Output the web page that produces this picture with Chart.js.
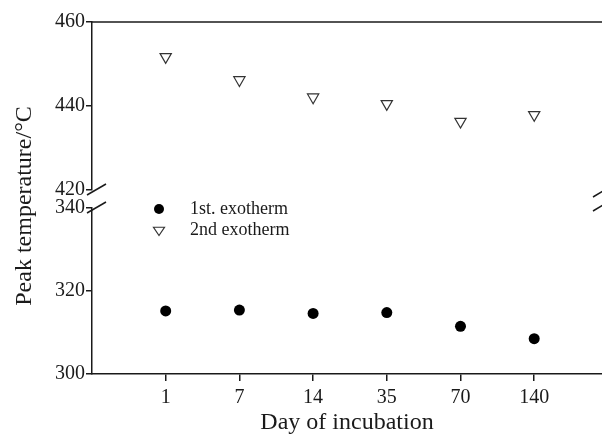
<!DOCTYPE html>
<html>
<head>
<meta charset="utf-8">
<script src="https://cdn.jsdelivr.net/npm/chart.js@4/dist/chart.umd.min.js"></script>
<style>
  html, body { margin: 0; padding: 0; background: #fff; }
  #wrap { width: 602px; height: 437px; }
</style>
</head>
<body>
<div id="wrap"><canvas id="chart" width="602" height="437"></canvas></div>
<script>
const days = ['1', '7', '14', '35', '70', '140'];
const firstExotherm = [315.2, 315.4, 314.6, 314.8, 311.5, 308.5];
const secondExotherm = [451.7, 446.2, 442.1, 440.5, 436.3, 437.9];
const topTicks = [420, 440, 460];
const bottomTicks = [300, 320, 340];

const serif = '"Liberation Serif", "DejaVu Serif", serif';
const ink = '#1a1a1a';

const toPoints = (values) => values.map((y, i) => ({ x: i + 1, y }));

const fixedTicks = (values) => (scale) => {
  scale.ticks = values.map((value) => ({ value }));
};

const yAxis = (min, max, ticks, weight) => ({
  type: 'linear',
  position: 'left',
  stack: 'y',
  stackWeight: weight,
  min,
  max,
  afterBuildTicks: fixedTicks(ticks),
  afterFit: (scale) => { scale.width = 92; },
  border: { display: true, color: ink, width: 1.5 },
  grid: { display: true, drawOnChartArea: false, drawTicks: true, tickLength: 6, color: ink, lineWidth: 1.5 },
  ticks: { color: ink, padding: 1, font: { family: serif, size: 20 } }
});

// axis breaks, top frame line, y title and the in-plot legend
const decorations = {
  id: 'decorations',
  afterDraw(chart) {
    const { ctx, chartArea } = chart;
    const top = chart.scales.yTop;
    const bottom = chart.scales.yBottom;
    ctx.save();
    ctx.strokeStyle = ink;
    ctx.lineWidth = 1.5;
    ctx.beginPath();
    ctx.moveTo(chartArea.left, chartArea.top);
    ctx.lineTo(chartArea.right, chartArea.top);
    ctx.stroke();

    const slash = (x, y) => {
      ctx.beginPath();
      ctx.moveTo(x - 5, y + 3);
      ctx.lineTo(x + 14, y - 8);
      ctx.stroke();
    };
    slash(chartArea.left, top.bottom + 2);
    slash(chartArea.left, bottom.top + 2);
    ctx.beginPath();
    ctx.moveTo(chartArea.right - 9, top.bottom + 7);
    ctx.lineTo(chartArea.right + 1, top.bottom + 1);
    ctx.moveTo(chartArea.right - 9, bottom.top + 3);
    ctx.lineTo(chartArea.right + 1, bottom.top - 3);
    ctx.stroke();

    ctx.fillStyle = ink;
    ctx.font = '24px ' + serif;
    ctx.textAlign = 'center';
    ctx.textBaseline = 'middle';
    ctx.translate(25, 206);
    ctx.rotate(-Math.PI / 2);
    ctx.fillText('Peak temperature/°C', 0, 0);
    ctx.restore();

    ctx.save();
    ctx.font = '18px ' + serif;
    ctx.fillStyle = ink;
    ctx.textBaseline = 'middle';
    chart.data.datasets.forEach((ds, i) => {
      const cx = 159;
      const cy = 209 + i * 21;
      ctx.beginPath();
      if (ds.pointStyle === 'circle') {
        ctx.arc(cx, cy, 5, 0, Math.PI * 2);
        ctx.fillStyle = ds.backgroundColor;
        ctx.fill();
      } else {
        const r = 5.5;
        ctx.moveTo(cx - r, cy - r / 2);
        ctx.lineTo(cx + r, cy - r / 2);
        ctx.lineTo(cx, cy + r);
        ctx.closePath();
        ctx.fillStyle = ds.backgroundColor;
        ctx.fill();
        ctx.strokeStyle = ds.borderColor;
        ctx.lineWidth = 1.2;
        ctx.stroke();
      }
      ctx.fillStyle = ink;
      ctx.fillText(ds.label, 190, cy);
    });
    ctx.restore();
  }
};

new Chart(document.getElementById('chart'), {
  type: 'scatter',
  data: {
    datasets: [
      {
        label: '1st. exotherm',
        data: toPoints(firstExotherm),
        yAxisID: 'yBottom',
        pointStyle: 'circle',
        pointRadius: 5.5,
        backgroundColor: '#000',
        borderColor: '#000',
        borderWidth: 0
      },
      {
        label: '2nd exotherm',
        data: toPoints(secondExotherm),
        yAxisID: 'yTop',
        pointStyle: 'triangle',
        rotation: 180,
        pointRadius: 6.5,
        backgroundColor: '#fff',
        borderColor: '#333',
        borderWidth: 1.2
      }
    ]
  },
  options: {
    responsive: false,
    animation: false,
    layout: { autoPadding: false, padding: { top: 22, right: 0, left: 0, bottom: 0 } },
    plugins: {
      legend: { display: false },
      tooltip: { enabled: false }
    },
    scales: {
      x: {
        type: 'linear',
        position: 'bottom',
        min: 0,
        max: 6.92,
        afterBuildTicks: fixedTicks(days.map((d, i) => i + 1)),
        afterFit: (scale) => {
          scale.height = 63;
          scale.paddingLeft = 0;
          scale.paddingRight = 0;
        },
        border: { display: true, color: ink, width: 1.5 },
        grid: { display: true, drawOnChartArea: false, drawTicks: true, tickLength: 7, color: ink, lineWidth: 1.5 },
        ticks: {
          color: ink,
          padding: 5,
          font: { family: serif, size: 20 },
          callback: (value) => days[value - 1]
        },
        title: {
          display: true,
          text: 'Day of incubation',
          color: ink,
          padding: { top: 0, bottom: 0 },
          font: { family: serif, size: 24 }
        }
      },
      // stacked left axes are laid out bottom-first
      yBottom: yAxis(300, 340, bottomTicks, 166),
      yGap: {
        type: 'linear',
        position: 'left',
        stack: 'y',
        stackWeight: 18,
        afterFit: (scale) => { scale.width = 92; },
        border: { display: false },
        grid: { display: false },
        ticks: { display: false }
      },
      yTop: yAxis(420, 460, topTicks, 168)
    }
  },
  plugins: [decorations]
});
</script>
</body>
</html>
